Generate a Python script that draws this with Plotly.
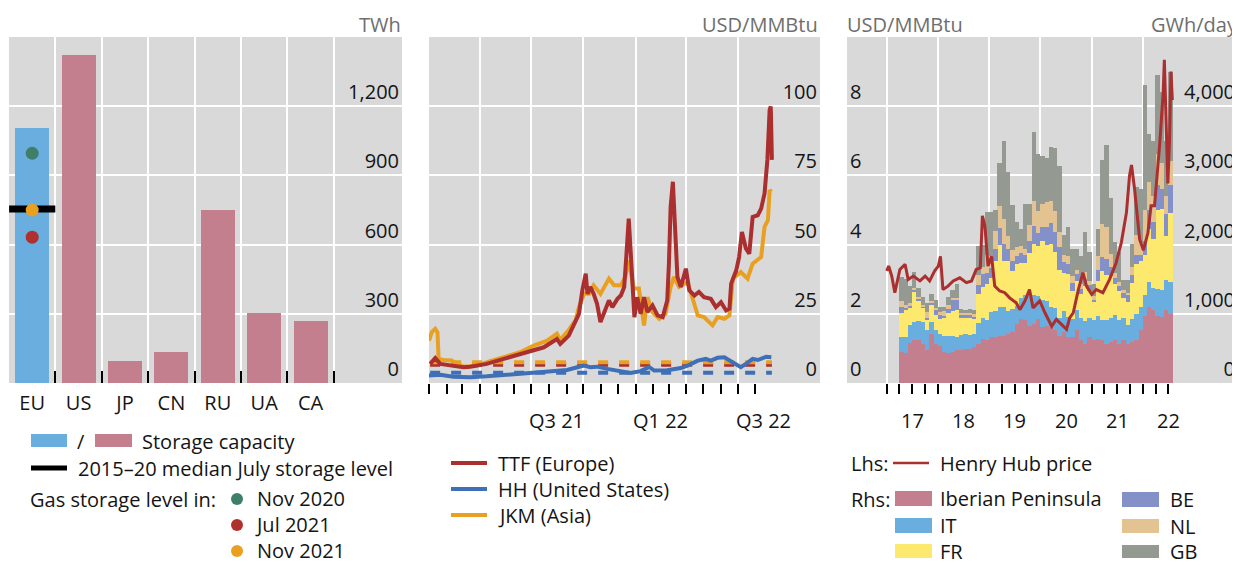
# %% Librerías
import pandas as pd
import plotly.graph_objects as go

# %% Datos: capacidad de almacenamiento (TWh)
paises = ["EU", "US", "JP", "CN", "RU", "UA", "CA"]
capacidad_twh = [1105, 1421, 95, 134, 750, 303, 269]
mediana_julio_eu = 754          # 2015-20 median July storage level
nivel_nov_2020 = 996
nivel_jul_2021 = 632
nivel_nov_2021 = 750

# %% Datos: precios spot (USD/MMBtu)
ttf_fechas = ["2021-01-03", "2021-01-12", "2021-01-21", "2021-02-13", "2021-03-03", "2021-03-15",
              "2021-04-13", "2021-05-13", "2021-06-11", "2021-07-05", "2021-07-23", "2021-08-15",
              "2021-08-21", "2021-09-05", "2021-09-14", "2021-09-23", "2021-09-29", "2021-10-05",
              "2021-10-08", "2021-10-13", "2021-10-19", "2021-10-25", "2021-10-31", "2021-11-09",
              "2021-11-15", "2021-11-21", "2021-11-30", "2021-12-06", "2021-12-12", "2021-12-16",
              "2021-12-20", "2021-12-25", "2021-12-30", "2022-01-04", "2022-01-10", "2022-01-16",
              "2022-01-22", "2022-01-31", "2022-02-09", "2022-02-18", "2022-02-26", "2022-03-01",
              "2022-03-04", "2022-03-08", "2022-03-12", "2022-03-16", "2022-03-22", "2022-03-31",
              "2022-04-06", "2022-04-15", "2022-04-23", "2022-05-02", "2022-05-14", "2022-05-23",
              "2022-06-01", "2022-06-10", "2022-06-16", "2022-06-19", "2022-06-28", "2022-07-03",
              "2022-07-08", "2022-07-15", "2022-07-21", "2022-07-27", "2022-08-05", "2022-08-11",
              "2022-08-17", "2022-08-22", "2022-08-26", "2022-08-28", "2022-08-30"]
ttf_usd = [6.9, 9.0, 6.9, 6.3, 5.7, 5.9,
           6.9, 8.7, 10.5, 11.7, 12.9, 15.9,
           14.1, 17.1, 20.8, 25.0, 33.5, 39.5,
           32.2, 34.7, 32.2, 28.6, 22.0, 26.8,
           29.8, 27.4, 30.4, 31.6, 34.7, 46.7,
           59.4, 41.9, 23.8, 31.0, 25.0, 31.0,
           25.6, 28.0, 24.4, 23.8, 29.8, 43.1,
           63.6, 72.7, 54.0, 38.3, 34.7, 41.3,
           33.5, 31.6, 32.9, 31.0, 30.4, 27.4,
           29.2, 26.2, 26.8, 35.9, 40.7, 45.5,
           54.6, 48.6, 46.7, 60.0, 60.6, 63.0,
           68.5, 80.6, 98.7, 99.9, 80.6]

jkm_fechas = ["2021-01-01", "2021-01-06", "2021-01-12", "2021-01-16", "2021-01-18", "2021-01-26",
              "2021-02-10", "2021-02-19", "2021-03-03", "2021-03-27", "2021-04-19", "2021-05-19",
              "2021-06-11", "2021-07-05", "2021-07-29", "2021-08-15", "2021-08-21", "2021-09-02",
              "2021-09-17", "2021-09-23", "2021-10-02", "2021-10-11", "2021-10-19", "2021-10-31",
              "2021-11-15", "2021-11-24", "2021-12-06", "2021-12-14", "2021-12-20", "2021-12-29",
              "2022-01-07", "2022-01-16", "2022-01-22", "2022-01-31", "2022-02-12", "2022-02-23",
              "2022-03-04", "2022-03-10", "2022-03-19", "2022-04-03", "2022-04-12", "2022-04-21",
              "2022-05-02", "2022-05-17", "2022-05-26", "2022-06-07", "2022-06-16", "2022-06-22",
              "2022-07-06", "2022-07-18", "2022-07-27", "2022-08-11", "2022-08-17", "2022-08-23",
              "2022-08-26", "2022-08-29"]
jkm_usd = [15.3, 18.4, 19.6, 18.4, 8.7, 8.3,
           8.1, 6.9, 5.9, 6.3, 7.9, 9.9,
           11.1, 13.5, 15.3, 17.8, 15.6, 18.4,
           22.6, 27.4, 32.2, 32.2, 35.3, 32.2,
           37.7, 35.3, 35.3, 38.3, 44.3, 34.1,
           34.1, 20.8, 31.0, 25.6, 23.2, 25.0,
           34.7, 38.3, 34.7, 36.5, 29.8, 24.4,
           23.8, 20.8, 23.8, 23.2, 24.4, 37.7,
           40.1, 37.7, 43.1, 45.5, 56.4, 58.8,
           69.7, 69.1]

hh_fechas = ["2021-01-01", "2021-01-21", "2021-02-13", "2021-03-15", "2021-04-13", "2021-05-13",
             "2021-06-11", "2021-07-11", "2021-08-09", "2021-09-02", "2021-09-20", "2021-10-02",
             "2021-10-13", "2021-10-25", "2021-11-12", "2021-12-06", "2021-12-23", "2022-01-10",
             "2022-01-25", "2022-02-03", "2022-02-26", "2022-03-22", "2022-04-03", "2022-04-21",
             "2022-05-05", "2022-05-14", "2022-05-26", "2022-06-07", "2022-06-22", "2022-07-06",
             "2022-07-15", "2022-07-27", "2022-08-05", "2022-08-20", "2022-08-29"]
hh_usd = [2.7, 3.0, 2.3, 2.1, 2.4, 2.9,
          3.3, 3.9, 4.2, 4.7, 5.7, 6.3,
          5.7, 5.9, 5.1, 4.2, 3.6, 4.3,
          5.8, 4.5, 4.6, 5.4, 6.3, 8.1,
          8.7, 8.1, 9.1, 9.3, 7.5, 5.7,
          6.9, 8.7, 8.3, 9.5, 9.3]

# promedios 2015-20 (lineas discontinuas)
ttf_promedio = 6.6
jkm_promedio = 7.5
hh_promedio = 3.7

# %% Datos: demanda de gas para generación (GWh/día), mensual abr-2017 a jul-2022
meses = pd.date_range("2017-04-01", "2022-07-01", freq="MS").strftime("%Y-%m-%d").tolist()
iberia = [445, 430, 575, 625, 615, 565, 480, 710, 565,
          540, 445, 430, 445, 470, 470, 495, 495, 515, 565, 640, 615,
          670, 660, 685, 685, 710, 735, 855, 930, 915, 830, 855, 930,
          805, 830, 805, 760, 685, 735, 660, 660, 760, 615, 565, 660,
          615, 640, 615, 565, 590, 615, 565, 625, 565, 590, 615, 760,
          975, 1105, 1050, 975, 960, 1050, 1000]
italia = [225, 240, 270, 260, 280, 310, 290, 170, 195,
          170, 240, 255, 235, 200, 225, 210, 205, 200, 300, 300, 300,
          360, 375, 410, 410, 330, 330, 260, 300, 350, 430, 420, 330,
          400, 350, 300, 330, 250, 300, 290, 270, 300, 320, 330, 280,
          300, 330, 290, 350, 350, 370, 340, 310, 280, 330, 380, 340,
          290, 360, 330, 390, 380, 440, 460]
francia = [340, 380, 240, 440, 300, 215, 145, 255, 225,
           215, 265, 330, 360, 380, 240, 240, 240, 210, 420, 450, 510,
           485, 725, 900, 670, 720, 560, 600, 500, 470, 620, 740, 720,
           850, 820, 900, 800, 700, 560, 620, 400, 420, 350, 500, 390,
           250, 510, 720, 640, 600, 450, 420, 300, 320, 520, 730, 660,
           580, 760, 700, 1130, 1180, 640, 990]
belgica = [95, 30, 35, 25, 25, 15, 25, 25, 70,
           70, 25, 60, 160, 150, 50, 50, 50, 35, 125, 190, 165,
           145, 170, 240, 240, 170, 140, 120, 150, 120, 170, 260, 190,
           200, 250, 310, 290, 330, 150, 150, 120, 90, 80, 110, 80,
           40, 150, 190, 240, 140, 80, 70, 70, 100, 120, 120, 90,
           200, 280, 240, 360, 280, 310, 410]
holanda = [85, 50, 40, 25, 25, 25, 80, 25, 25,
           25, 70, 50, 35, 25, 25, 15, 20, 30, 155, 100, 255,
           170, 265, 330, 365, 200, 160, 130, 100, 80, 230, 350, 310,
           330, 370, 310, 310, 220, 100, 120, 90, 60, 60, 100, 60,
           50, 200, 480, 460, 180, 80, 60, 40, 40, 120, 300, 180,
           450, 400, 380, 450, 380, 260, 350]
gran_bretana = [340, 375, 235, 225, 135, 110, 140, 105, 115,
                75, 60, 115, 105, 210, 60, 50, 60, 70, 410, 310, 630,
                645, 305, 610, 1120, 920, 645, 365, 250, 655, 310, 1005, 830,
                695, 625, 790, 900, 950, 290, 415, 390, 310, 405, 580, 425,
                180, 400, 930, 1185, 820, 445, 445, 140, 180, 335, 690, 770,
                1815, 695, 800, 1145, 1020, 800, 1290]

henry_hub_fechas = ["2017-01-01", "2017-01-15", "2017-02-06", "2017-02-28", "2017-04-05", "2017-05-12",
                    "2017-06-03", "2017-07-10", "2017-08-26", "2017-10-02", "2017-11-03", "2017-12-09",
                    "2018-01-04", "2018-01-19", "2018-02-06", "2018-03-14", "2018-04-20", "2018-06-06",
                    "2018-07-23", "2018-08-29", "2018-10-01", "2018-10-30", "2018-11-14", "2018-12-02",
                    "2018-12-24", "2019-01-19", "2019-02-10", "2019-03-18", "2019-04-23", "2019-05-27",
                    "2019-07-13", "2019-08-08", "2019-09-13", "2019-10-16", "2019-11-10", "2019-12-28",
                    "2020-02-03", "2020-03-22", "2020-04-24", "2020-05-31", "2020-07-06", "2020-07-28",
                    "2020-08-23", "2020-09-28", "2020-10-31", "2020-11-25", "2021-01-01", "2021-02-03",
                    "2021-03-22", "2021-05-08", "2021-06-24", "2021-07-31", "2021-09-06", "2021-09-28",
                    "2021-10-12", "2021-11-03", "2021-12-09", "2022-01-05", "2022-02-06", "2022-02-28",
                    "2022-03-25", "2022-04-30", "2022-05-26", "2022-06-03", "2022-06-17", "2022-06-28",
                    "2022-07-10", "2022-07-20", "2022-07-30"]
henry_hub_usd = [3.24, 3.38, 3.09, 2.61, 3.28, 3.43,
                 2.99, 3.09, 2.95, 3.09, 2.95, 3.24,
                 3.38, 3.66, 2.70, 2.80, 2.95, 3.04,
                 2.90, 2.95, 3.28, 3.33, 4.83, 4.54,
                 3.38, 3.66, 2.80, 2.66, 2.61, 2.46,
                 2.32, 2.12, 2.37, 2.70, 2.17, 2.37,
                 2.03, 1.64, 1.84, 1.69, 1.55, 1.88,
                 2.03, 2.70, 3.19, 2.80, 2.56, 2.70,
                 2.61, 2.99, 3.47, 4.05, 4.93, 6.00,
                 6.30, 5.60, 4.15, 3.84, 4.34, 5.12,
                 5.12, 6.86, 8.41, 9.34, 7.44, 5.77,
                 7.00, 9.00, 8.18]

# %% Estilo
# la página deja 8 px de margen al cuerpo: la figura se reduce en esa medida
# y todas las posiciones se dan en píxeles de la ventana (1240x566)
MARGEN = 8
W, H = 1240 - MARGEN, 566 - MARGEN
FUENTE = "Open Sans"
NEGRO = "#141414"
GRIS_UNIDAD = "#6e6e6e"
FONDO = "#d9d9d9"
AZUL_UE = "#6aaee0"
ROSA = "#c47f8e"
ROJO = "#ab2f2f"
AZUL = "#3f6fb6"
NARANJA = "#e9a020"
VERDE = "#3f7f69"
ROJO_PUNTO = "#b0302f"
AMARILLO = "#fde96e"
LAVANDA = "#8490c8"
BEIGE = "#e3c391"
GRIS_GB = "#949a92"


def px(x):
    return (x - MARGEN) / W


def py(y):
    return 1 - (y - MARGEN) / H


dom_y = [py(383), py(37)]
fig = go.Figure()

# %% Panel izquierdo
fig.add_trace(go.Bar(x=paises, y=capacidad_twh, width=0.735,
                     marker=dict(color=[AZUL_UE] + [ROSA] * (len(paises) - 1), line_width=0),
                     xaxis="x", yaxis="y", showlegend=False))
fig.add_trace(go.Scatter(x=["EU"], y=[mediana_julio_eu], mode="markers",
                         marker=dict(symbol="line-ew", size=33, color="black",
                                     line=dict(width=7, color="black")),
                         xaxis="x", yaxis="y", showlegend=False))
fig.add_trace(go.Scatter(x=["EU"] * 3, y=[nivel_nov_2020, nivel_jul_2021, nivel_nov_2021],
                         mode="markers", marker=dict(size=13, color=[VERDE, ROJO_PUNTO, NARANJA]),
                         xaxis="x", yaxis="y", showlegend=False))

# %% Panel central
for valor, color in [(hh_promedio, AZUL), (ttf_promedio, ROJO), (jkm_promedio, NARANJA)]:
    fig.add_trace(go.Scatter(x=[ttf_fechas[0], ttf_fechas[-1]], y=[valor, valor], mode="lines",
                             line=dict(color=color, width=4, dash="10px,11px"),
                             xaxis="x2", yaxis="y2", showlegend=False))
for fechas, valores, color in [(jkm_fechas, jkm_usd, NARANJA), (hh_fechas, hh_usd, AZUL),
                               (ttf_fechas, ttf_usd, ROJO)]:
    fig.add_trace(go.Scatter(x=fechas, y=valores, mode="lines", line=dict(color=color, width=4),
                             xaxis="x2", yaxis="y2", showlegend=False))

# %% Panel derecho
for nombre, valores, color in [("Iberian Peninsula", iberia, ROSA), ("IT", italia, AZUL_UE),
                               ("FR", francia, AMARILLO), ("BE", belgica, LAVANDA),
                               ("NL", holanda, BEIGE), ("GB", gran_bretana, GRIS_GB)]:
    fig.add_trace(go.Bar(x=meses, y=valores, name=nombre, marker=dict(color=color, line_width=0),
                         xperiod="M1", xperiodalignment="middle", width=31 * 86400000,
                         xaxis="x3", yaxis="y3", showlegend=False))
fig.add_trace(go.Scatter(x=henry_hub_fechas, y=henry_hub_usd, mode="lines",
                         line=dict(color=ROJO, width=3), xaxis="x3", yaxis="y4", showlegend=False))

# %% Ejes
fuente = dict(family=FUENTE, size=20, color=NEGRO)
eje_y = dict(domain=dom_y, showgrid=True, gridcolor="white", gridwidth=1.5, zeroline=False,
             ticks="", ticklabelposition="inside top", tickfont=fuente, showline=False)
trimestres = pd.date_range("2021-01-01", "2022-07-01", freq="QS").strftime("%Y-%m-%d").tolist()
meses_medio = pd.date_range("2021-01-01", "2022-08-01", freq="MS").strftime("%Y-%m-%d").tolist()
anios = pd.date_range("2017-01-01", "2022-01-01", freq="YS").strftime("%Y-%m-%d").tolist()
trimestres_der = pd.date_range("2017-01-01", "2022-07-01", freq="QS").strftime("%Y-%m-%d").tolist()

fig.update_layout(
    width=W, height=H, margin=dict(l=0, r=0, t=0, b=0),
    paper_bgcolor="white", plot_bgcolor=FONDO, barmode="stack", bargap=0,
    font=fuente,
    xaxis=dict(domain=[px(9), px(402)], range=[-0.5, 7.97], type="category",
               tickson="boundaries", ticks="inside", ticklen=12, tickwidth=1.5, tickcolor="black",
               showgrid=True, gridcolor="white", gridwidth=1.5, tickfont=fuente,
               ticklabelstandoff=6, showline=False, zeroline=False),
    yaxis=dict(eje_y, anchor="x", side="right", range=[0, 1500],
               tickvals=[0, 300, 600, 900, 1200], tickformat=","),
    xaxis2=dict(domain=[px(429), px(820)], anchor="y2", type="date",
                range=["2021-01-01", "2022-11-23"], tickvals=trimestres,
                ticktext=[""] * len(trimestres), ticks="outside", ticklen=22, tickwidth=1.5,
                tickcolor="black", showgrid=True, gridcolor="white", gridwidth=1.5,
                minor=dict(tickvals=meses_medio, ticks="outside", ticklen=10, tickwidth=1.5,
                           tickcolor="black", showgrid=False),
                showline=False, zeroline=False),
    yaxis2=dict(eje_y, anchor="x2", side="right", range=[0, 125], tickvals=[0, 25, 50, 75, 100]),
    xaxis3=dict(domain=[px(847), px(1238)], anchor="y3", type="date",
                range=["2016-03-24", "2023-11-10"], tickvals=anios,
                ticktext=[""] * len(anios), ticks="outside", ticklen=22, tickwidth=1.5,
                tickcolor="black", showgrid=True, gridcolor="white", gridwidth=1.5,
                minor=dict(tickvals=trimestres_der, ticks="outside", ticklen=10, tickwidth=1.5,
                           tickcolor="black", showgrid=False),
                showline=False, zeroline=False),
    yaxis3=dict(eje_y, anchor="x3", side="right", range=[0, 5000],
                tickvals=[0, 1000, 2000, 3000, 4000], tickformat=","),
    yaxis4=dict(eje_y, anchor="x3", overlaying="y3", side="left", range=[0, 10],
                tickvals=[0, 2, 4, 6, 8], showgrid=False),
)

# %% Textos: unidades y etiquetas de fecha
def texto(x, y, t, xanchor="left", color=NEGRO, xref="paper", yanchor="middle"):
    fig.add_annotation(x=x, y=py(y), xref=xref, yref="paper", text=t, showarrow=False,
                       xanchor=xanchor, yanchor=yanchor, align="left",
                       font=dict(family=FUENTE, size=20, color=color))


texto(px(403), 24, "TWh", "right", GRIS_UNIDAD)
texto(px(820), 24, "USD/MMBtu", "right", GRIS_UNIDAD)
texto(px(845), 24, "USD/MMBtu", "left", GRIS_UNIDAD)
texto(px(1240), 24, "GWh/day", "right", GRIS_UNIDAD)

for fecha, etiqueta in [("2021-08-15", "Q3 21"), ("2022-02-14", "Q1 22"), ("2022-08-15", "Q3 22")]:
    texto(fecha, 420, etiqueta, "center", xref="x2")
for anio in range(2017, 2023):
    texto(f"{anio}-07-02", 420, str(anio)[2:], "center", xref="x3")

# %% Leyendas
def rect(x0, x1, y0, y1, color):
    fig.add_shape(type="rect", xref="paper", yref="paper", x0=px(x0), x1=px(x1),
                  y0=py(y1), y1=py(y0), fillcolor=color, line_width=0)


def raya(x0, x1, y, color, ancho):
    fig.add_shape(type="line", xref="paper", yref="paper", x0=px(x0), x1=px(x1),
                  y0=py(y), y1=py(y), line=dict(color=color, width=ancho))


def punto(cx, cy, color, r=6):
    fig.add_shape(type="circle", xref="paper", yref="paper", x0=px(cx - r), x1=px(cx + r),
                  y0=py(cy + r), y1=py(cy - r), fillcolor=color, line_width=0)


# izquierda
rect(31, 67, 434, 447, AZUL_UE)
texto(px(75), 441, "/")
rect(95, 132, 434, 447, ROSA)
texto(px(140), 441, "Storage capacity")
raya(31, 67, 468, "black", 5)
texto(px(76), 468, "2015–20 median July storage level")
texto(px(28), 499, "Gas storage level in:")
# las tres fechas en un solo bloque de texto (interlineado 1.3)
texto(px(253), 566, "Nov 2020<br>Jul 2021<br>Nov 2021", yanchor="bottom")
for y, color in [(499, VERDE), (525, ROJO_PUNTO), (551, NARANJA)]:
    punto(237, y, color)

# centro
for y, color, etiqueta in [(463, ROJO, "TTF (Europe)"), (489, AZUL, "HH (United States)"),
                           (515, NARANJA, "JKM (Asia)")]:
    raya(451, 487, y, color, 4)
    texto(px(496), y, etiqueta)

# derecha
texto(px(849), 463, "Lhs:")
raya(893, 929, 463, ROJO, 2.5)
texto(px(938), 463, "Henry Hub price")
texto(px(849), 499, "Rhs:")
for (y0, y1), color, etiqueta in [((491, 506), ROSA, "Iberian Peninsula"), ((518, 533), AZUL_UE, "IT"),
                                  ((544, 558), AMARILLO, "FR")]:
    rect(895, 932, y0, y1, color)
    texto(px(938), (y0 + y1) / 2, etiqueta)
for (y0, y1), color, etiqueta in [((492, 507), LAVANDA, "BE"), ((519, 533), BEIGE, "NL"),
                                  ((545, 558), GRIS_GB, "GB")]:
    rect(1122, 1159, y0, y1, color)
    texto(px(1168), (y0 + y1) / 2, etiqueta)

fig.write_html("out.html")
